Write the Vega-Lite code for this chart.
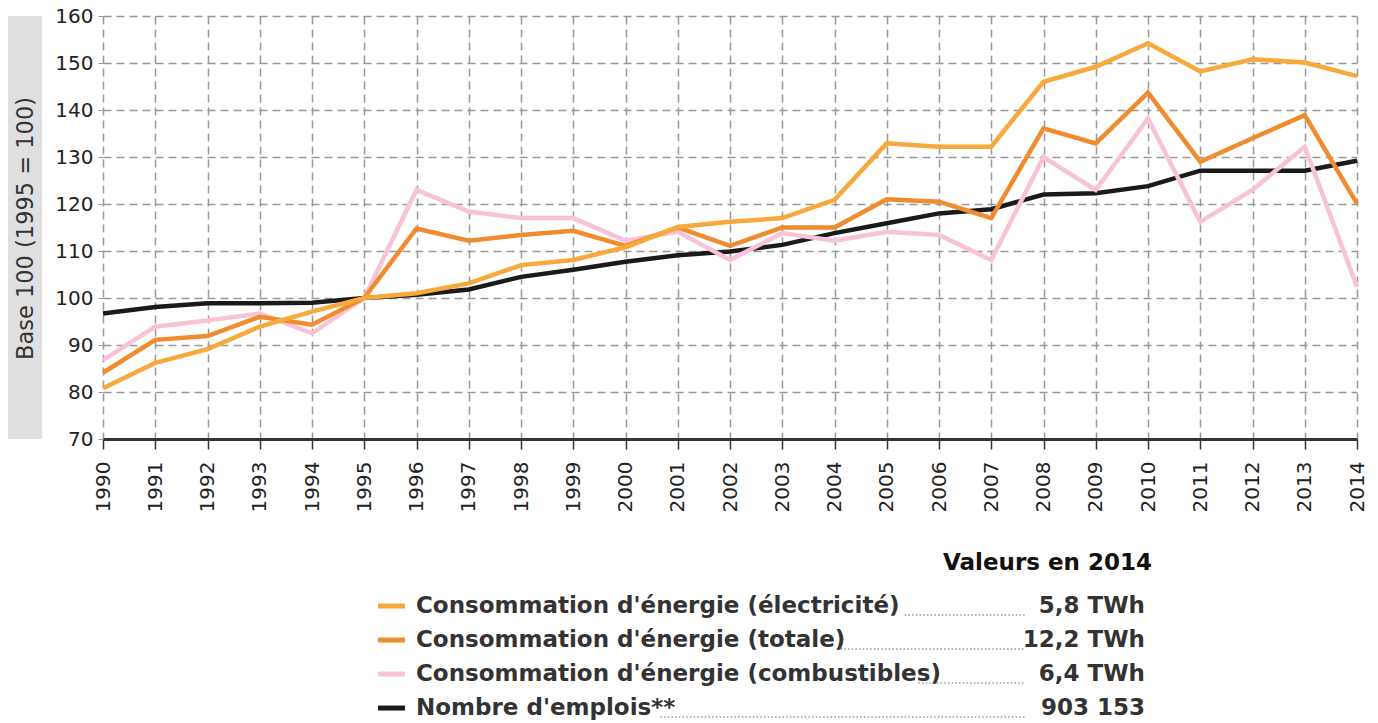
{
  "$schema": "https://vega.github.io/schema/vega-lite/v6.json",
  "padding": {"left": 8, "top": 6, "right": 0, "bottom": 0},
  "bounds": "flush",
  "spacing": 522,
  "config": {
    "font": "DejaVu Sans",
    "view": {"stroke": null},
    "axis": {"labelFont": "DejaVu Sans", "titleFont": "DejaVu Sans"}
  },
  "datasets": {
    "series": [
      {"annee": 1990, "elec": 80.8, "totale": 84.1, "combust": 86.8, "emplois": 96.7},
      {"annee": 1991, "elec": 86.2, "totale": 91.1, "combust": 93.9, "emplois": 98.1},
      {"annee": 1992, "elec": 89.1, "totale": 91.9, "combust": 95.2, "emplois": 98.9},
      {"annee": 1993, "elec": 93.9, "totale": 96.0, "combust": 96.7, "emplois": 98.9},
      {"annee": 1994, "elec": 97.1, "totale": 94.3, "combust": 92.5, "emplois": 99.0},
      {"annee": 1995, "elec": 100, "totale": 100, "combust": 100, "emplois": 100},
      {"annee": 1996, "elec": 101.0, "totale": 114.8, "combust": 123.0, "emplois": 100.7},
      {"annee": 1997, "elec": 103.1, "totale": 112.2, "combust": 118.4, "emplois": 101.8},
      {"annee": 1998, "elec": 107.0, "totale": 113.4, "combust": 117.0, "emplois": 104.5},
      {"annee": 1999, "elec": 108.1, "totale": 114.3, "combust": 117.0, "emplois": 106.0},
      {"annee": 2000, "elec": 110.8, "totale": 111.1, "combust": 112.2, "emplois": 107.7},
      {"annee": 2001, "elec": 115.1, "totale": 115.0, "combust": 114.1, "emplois": 109.1},
      {"annee": 2002, "elec": 116.2, "totale": 111.1, "combust": 108.1, "emplois": 109.9},
      {"annee": 2003, "elec": 117.0, "totale": 115.0, "combust": 113.8, "emplois": 111.3},
      {"annee": 2004, "elec": 120.9, "totale": 115.0, "combust": 112.2, "emplois": 113.8},
      {"annee": 2005, "elec": 132.9, "totale": 121.0, "combust": 114.1, "emplois": 115.9},
      {"annee": 2006, "elec": 132.2, "totale": 120.5, "combust": 113.4, "emplois": 118.0},
      {"annee": 2007, "elec": 132.2, "totale": 117.0, "combust": 108.1, "emplois": 118.9},
      {"annee": 2008, "elec": 146.0, "totale": 136.1, "combust": 130.0, "emplois": 122.0},
      {"annee": 2009, "elec": 149.2, "totale": 132.9, "combust": 123.0, "emplois": 122.3},
      {"annee": 2010, "elec": 154.2, "totale": 143.7, "combust": 138.2, "emplois": 123.8},
      {"annee": 2011, "elec": 148.2, "totale": 129.0, "combust": 116.2, "emplois": 127.1},
      {"annee": 2012, "elec": 150.8, "totale": 134.0, "combust": 123.0, "emplois": 127.1},
      {"annee": 2013, "elec": 150.1, "totale": 138.9, "combust": 132.2, "emplois": 127.1},
      {"annee": 2014, "elec": 147.2, "totale": 120.1, "combust": 102.4, "emplois": 129.2}
    ],
    "legende": [
      {"rang": 1, "key": "elec", "libelle": "Consommation d'énergie (électricité)", "valeur": "5,8 TWh"},
      {"rang": 2, "key": "totale", "libelle": "Consommation d'énergie (totale)", "valeur": "12,2 TWh"},
      {"rang": 3, "key": "combust", "libelle": "Consommation d'énergie (combustibles)", "valeur": "6,4 TWh"},
      {"rang": 4, "key": "emplois", "libelle": "Nombre d'emplois**", "valeur": "903 153"}
    ]
  },
  "vconcat": [
    {
      "bounds": "flush",
      "spacing": 61,
      "hconcat": [
        {
          "width": 34,
          "height": 423,
          "data": {"values": [{"panneau": "titre"}]},
          "mark": {"type": "rect", "color": "#e0e0e0"},
          "encoding": {}
        },
        {
          "width": 1254,
          "height": 423,
          "data": {"name": "series"},
          "transform": [{"fold": ["emplois", "combust", "totale", "elec"], "as": ["key", "indice"]}],
          "mark": {"type": "line", "strokeWidth": 4.5},
          "encoding": {
            "x": {
              "field": "annee", "type": "quantitative",
              "scale": {"domain": [1990, 2014], "nice": false, "zero": false},
              "axis": {
                "values": [1990,1991,1992,1993,1994,1995,1996,1997,1998,1999,2000,2001,2002,2003,2004,2005,2006,2007,2008,2009,2010,2011,2012,2013,2014],
                "format": "d", "labelAngle": 270, "labelFontSize": 20, "labelColor": "#222",
                "labelPadding": 12, "tickSize": 10, "tickColor": "#333", "tickWidth": 1.5,
                "domainColor": "#333", "domainWidth": 3,
                "grid": true, "gridColor": "#999", "gridDash": [8, 5], "gridWidth": 1.5,
                "title": null, "labelFlush": false, "labelOverlap": false
              }
            },
            "y": {
              "field": "indice", "type": "quantitative",
              "scale": {"domain": [70, 160], "nice": false, "zero": false},
              "axis": {
                "values": [70, 80, 90, 100, 110, 120, 130, 140, 150, 160],
                "labelFontSize": 20, "labelColor": "#222", "labelPadding": 5,
                "tickSize": 5, "tickColor": "#999", "domain": false,
                "grid": true, "gridColor": "#999", "gridDash": [8, 5], "gridWidth": 1.5,
                "title": "Base 100 (1995 = 100)", "titleFontSize": 22.5, "titleFontWeight": "normal",
                "titleColor": "#333", "titleX": -78, "titleY": 212, "titleAngle": 270,
                "titleAlign": "center", "titleBaseline": "middle", "labelFlush": false
              }
            },
            "color": {
              "field": "key", "type": "nominal",
              "scale": {"domain": ["elec", "totale", "combust", "emplois"], "range": ["#F7A93B", "#F08C2E", "#F9C3D7", "#1a1a1a"]},
              "legend": null
            }
          }
        }
      ]
    },
    {
      "width": 1370,
      "height": 184,
      "data": {"name": "legende"},
      "encoding": {
        "y": {"field": "rang", "type": "quantitative", "scale": {"domain": [-1, 4.41], "reverse": true, "nice": false, "zero": false}, "axis": null}
      },
      "layer": [
        {
          "mark": {"type": "rule", "strokeWidth": 5},
          "encoding": {
            "x": {"datum": 0.2701, "type": "quantitative", "scale": {"domain": [0, 1], "nice": false, "zero": false}, "axis": null},
            "x2": {"datum": 0.2898},
            "color": {"field": "key", "type": "nominal", "legend": null}
          }
        },
        {
          "transform": [{"calculate": "0.2978 + length(datum.libelle) * 0.00991", "as": "debut"}],
          "mark": {"type": "rule", "strokeDash": [1.5, 2.2], "color": "#999", "strokeWidth": 1.5, "yOffset": 9},
          "encoding": {
            "x": {"field": "debut", "type": "quantitative"},
            "x2": {"datum": 0.7423}
          }
        },
        {
          "mark": {"type": "text", "align": "left", "baseline": "middle", "fontWeight": "bold", "fontSize": 23, "color": "#333"},
          "encoding": {
            "x": {"datum": 0.2978, "type": "quantitative"},
            "text": {"field": "libelle"}
          }
        },
        {
          "mark": {"type": "text", "align": "right", "baseline": "middle", "fontWeight": "bold", "fontSize": 23, "color": "#333"},
          "encoding": {
            "x": {"datum": 0.8299, "type": "quantitative"},
            "text": {"field": "valeur"}
          }
        },
        {
          "transform": [{"filter": "datum.rang == 1"}],
          "mark": {"type": "text", "align": "right", "baseline": "middle", "fontWeight": "bold", "fontSize": 23, "color": "#111"},
          "encoding": {
            "x": {"datum": 0.835, "type": "quantitative"},
            "y": {"datum": -0.26, "type": "quantitative"},
            "text": {"value": "Valeurs en 2014"}
          }
        }
      ]
    }
  ]
}
